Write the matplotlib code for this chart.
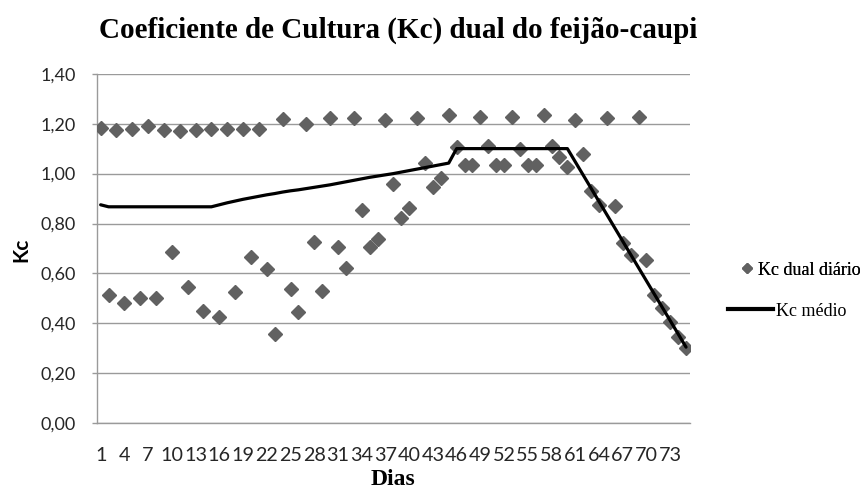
import matplotlib
matplotlib.use("Agg")
import matplotlib.pyplot as plt
from matplotlib.ticker import FuncFormatter, MultipleLocator
from matplotlib.lines import Line2D

# ---------------- data ----------------
dias = list(range(1, 76))

kc_dual_diario = [
    1.183, 0.514, 1.176, 0.483, 1.179, 0.500, 1.192, 0.500, 1.176, 0.687,
    1.169, 0.545, 1.176, 0.450, 1.179, 0.427, 1.179, 0.525, 1.179, 0.665,
    1.179, 0.617, 0.358, 1.219, 0.538, 0.445, 1.197, 0.725, 0.531, 1.224,
    0.707, 0.620, 1.221, 0.854, 0.707, 0.740, 1.215, 0.958, 0.821, 0.861,
    1.221, 1.041, 0.948, 0.981, 1.235, 1.108, 1.034, 1.034, 1.228, 1.110,
    1.034, 1.034, 1.228, 1.100, 1.034, 1.034, 1.235, 1.112, 1.068, 1.028,
    1.215, 1.077, 0.930, 0.874, 1.221, 0.870, 0.721, 0.674, 1.228, 0.654,
    0.514, 0.460, 0.407, 0.347, 0.300,
]

kc_medio = [
    0.875, 0.867, 0.867, 0.867, 0.867, 0.867, 0.867, 0.867, 0.867, 0.867,
    0.867, 0.867, 0.867, 0.867, 0.867, 0.875, 0.883, 0.890, 0.897, 0.903,
    0.909, 0.915, 0.920, 0.926, 0.931, 0.935, 0.940, 0.945, 0.950, 0.955,
    0.961, 0.967, 0.973, 0.979, 0.985, 0.990, 0.995, 1.000, 1.006, 1.012,
    1.018, 1.024, 1.030, 1.036, 1.042, 1.100, 1.100, 1.100, 1.100, 1.100,
    1.100, 1.100, 1.100, 1.100, 1.100, 1.100, 1.100, 1.100, 1.100, 1.100,
    1.047, 0.994, 0.941, 0.888, 0.835, 0.782, 0.729, 0.676, 0.623, 0.570,
    0.517, 0.464, 0.411, 0.358, 0.305,
]

tick_dias = dias[::3]
tick_labels = [str(d) for d in tick_dias]

titulo = "Coeficiente de Cultura (Kc) dual do feijão-caupi"
rotulo_x = "Dias"
rotulo_y = "Kc"
serie_1 = "Kc dual diário"
serie_2 = "Kc médio"

# ---------------- figure ----------------
W, H = 866, 494
fig = plt.figure(figsize=(W / 100, H / 100), dpi=100)
fig.patch.set_facecolor("white")

ax = fig.add_axes([96.7 / W, 1 - 423.3 / H, (690 - 96.7) / W, (423.3 - 73.7) / H])

marker_color = "#616161"
grid_color = "#9a9a9a"
text_color = "#262626"

ax.plot(dias, kc_dual_diario, linestyle="none", marker="D", markersize=7.0,
        color=marker_color, markeredgecolor=marker_color, zorder=3)
ax.plot(dias, kc_medio, color="black", linewidth=2.3, zorder=4,
        solid_joinstyle="round", solid_capstyle="round")

ax.set_xlim(0.5, 75.5)
ax.set_ylim(0, 1.4)
ax.yaxis.set_major_locator(MultipleLocator(0.2))
ax.yaxis.set_major_formatter(FuncFormatter(lambda v, p: f"{v:.2f}".replace(".", ",")))
ax.set_xticks(tick_dias)
ax.set_xticklabels(tick_labels)

ax.grid(axis="y", color=grid_color, linewidth=1.0, zorder=0)
ax.set_axisbelow(True)
for s in ("top", "right"):
    ax.spines[s].set_visible(False)
ax.spines["left"].set_color(grid_color)
ax.spines["bottom"].set_color(grid_color)
ax.spines["left"].set_linewidth(1.0)
ax.spines["bottom"].set_linewidth(1.0)

ax.tick_params(axis="y", length=3.6, width=1.0, color=grid_color, pad=11.5,
               labelsize=13, labelcolor=text_color)
ax.tick_params(axis="x", length=0, pad=17, labelsize=14.2, labelcolor=text_color)
for lab in ax.get_xticklabels() + ax.get_yticklabels():
    lab.set_fontfamily("Lato")

# titles
fig.text(398 / W, 1 - 30 / H, titulo, ha="center", va="center",
         fontsize=21, fontweight="bold", family="Liberation Serif", color="black")
fig.text(393 / W, 4 / H, rotulo_x, ha="center", va="bottom",
         fontsize=17, fontweight="bold", family="Liberation Serif", color="black")
fig.text(21 / W, 1 - 250 / H, rotulo_y, ha="center", va="center", rotation=90,
         fontsize=15, fontweight="bold", family="Lato", color="black")

# legends
h1 = Line2D([], [], linestyle="none", marker="D", markersize=5.5,
            color=marker_color, markeredgecolor=marker_color)
h2 = Line2D([], [], color="black", linewidth=3.0)
leg_font = {"family": "Liberation Serif", "size": 13}
leg1 = fig.legend([h1], [serie_1], loc="center left", bbox_to_anchor=(743 / W, 1 - 270 / H),
                  frameon=False, prop=leg_font, borderpad=0, borderaxespad=0,
                  handlelength=0.45, handletextpad=0.4)
leg2 = fig.legend([h2], [serie_2], loc="center left", bbox_to_anchor=(728 / W, 1 - 311 / H),
                  frameon=False, prop=leg_font, borderpad=0, borderaxespad=0,
                  handlelength=2.5, handletextpad=0.17)
fig.add_artist(leg1)

fig.savefig("out.png", dpi=100, facecolor="white")
